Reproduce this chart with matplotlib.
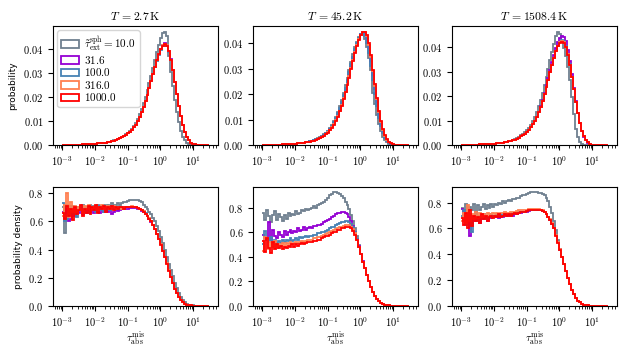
import numpy as np
import matplotlib
matplotlib.use("Agg")
import matplotlib.pyplot as plt
from matplotlib.patches import Patch
from matplotlib.ticker import FuncFormatter, LogLocator, MultipleLocator, NullFormatter

plt.rcParams['mathtext.fontset'] = 'cm'

# ---------------- data ----------------
temperatures = ['2.7', '45.2', '1508.4']
tau_ext_labels = ['10.0', '31.6', '100.0', '316.0', '1000.0']
log_edge_min, log_edge_max, n_bins = -3.0, 1.5, 75

# ---- top row: probability per bin ----
# T = 2.7 K
prob_T1_left = [0.0, 0.00003, 0.00005, 0.00007, 0.00008, 0.0001, 0.00012, 0.00014,
                0.00016, 0.00019, 0.00022, 0.00026, 0.0003, 0.00035, 0.0004, 0.00045,
                0.0005, 0.00056, 0.00063, 0.0007, 0.00079, 0.00089, 0.001, 0.0012]
prob_T1_tau10 = prob_T1_left + [
    0.0014, 0.0016, 0.0019, 0.0022, 0.0025, 0.0029, 0.0034, 0.0039,
    0.0045, 0.0051, 0.0059, 0.0068, 0.0079, 0.0092, 0.0108, 0.0127,
    0.0149, 0.0173, 0.0199, 0.0227, 0.0257, 0.0289, 0.0322, 0.0355,
    0.0388, 0.0418, 0.0445, 0.0466, 0.0470, 0.0455, 0.0372, 0.0305,
    0.0245, 0.0188, 0.0137, 0.0094, 0.0060, 0.0035, 0.0019, 0.0009,
    0.0004, 0.0002, 0.0001, 0.0, 0.0, 0.0, 0.0, 0.0, 0.0, 0.0, 0.0]
prob_T1_tau31 = prob_T1_left + [
    0.0014, 0.0016, 0.0018, 0.0021, 0.0024, 0.0028, 0.0032, 0.0037,
    0.0042, 0.0048, 0.0055, 0.0063, 0.0073, 0.0085, 0.0100, 0.0118,
    0.0138, 0.0160, 0.0184, 0.0210, 0.0238, 0.0267, 0.0296, 0.0325,
    0.0353, 0.0379, 0.0400, 0.0416, 0.0424, 0.0416, 0.0393, 0.0357,
    0.0310, 0.0262, 0.0212, 0.0164, 0.0120, 0.0083, 0.0054, 0.0033,
    0.0019, 0.0010, 0.0005, 0.00025, 0.00012, 0.00006, 0.00003, 0.0, 0.0, 0.0, 0.0]
prob_T1_tau100 = prob_T1_left + [
    0.0014, 0.0016, 0.0018, 0.0021, 0.0024, 0.0028, 0.0032, 0.0037,
    0.0042, 0.0048, 0.0055, 0.0063, 0.0073, 0.0085, 0.0100, 0.0118,
    0.0138, 0.0160, 0.0184, 0.0210, 0.0238, 0.0267, 0.0296, 0.0325,
    0.0351, 0.0376, 0.0397, 0.0411, 0.0418, 0.0410, 0.0388, 0.0354,
    0.0310, 0.0262, 0.0212, 0.0164, 0.0120, 0.0083, 0.0054, 0.0033,
    0.0019, 0.0010, 0.0005, 0.00025, 0.00012, 0.00006, 0.00003, 0.0, 0.0, 0.0, 0.0]
prob_T1_tau316 = prob_T1_left + [
    0.0014, 0.0016, 0.0018, 0.0021, 0.0024, 0.0028, 0.0032, 0.0037,
    0.0042, 0.0048, 0.0055, 0.0063, 0.0073, 0.0085, 0.0100, 0.0118,
    0.0138, 0.0160, 0.0184, 0.0210, 0.0238, 0.0267, 0.0296, 0.0325,
    0.0352, 0.0377, 0.0399, 0.0414, 0.0421, 0.0414, 0.0391, 0.0355,
    0.0310, 0.0262, 0.0212, 0.0164, 0.0120, 0.0083, 0.0054, 0.0033,
    0.0019, 0.0010, 0.0005, 0.00025, 0.00012, 0.00006, 0.00003, 0.0, 0.0, 0.0, 0.0]
prob_T1_tau1000 = prob_T1_left + [
    0.0014, 0.0016, 0.0018, 0.0021, 0.0024, 0.0028, 0.0032, 0.0037,
    0.0042, 0.0048, 0.0055, 0.0063, 0.0073, 0.0085, 0.0100, 0.0118,
    0.0138, 0.0160, 0.0184, 0.0210, 0.0238, 0.0267, 0.0296, 0.0325,
    0.0352, 0.0377, 0.0398, 0.0413, 0.0420, 0.0412, 0.0390, 0.0355,
    0.0310, 0.0262, 0.0212, 0.0164, 0.0120, 0.0083, 0.0054, 0.0033,
    0.0019, 0.0010, 0.0005, 0.00025, 0.00012, 0.00006, 0.00003, 0.0, 0.0, 0.0, 0.0]

# T = 45.2 K
prob_T2_left = [0.0, 0.00003, 0.00005, 0.00007, 0.00009, 0.0001, 0.00012, 0.00014,
                0.00016, 0.00019, 0.00022, 0.00026, 0.0003, 0.00034, 0.00039, 0.00044,
                0.0005, 0.00056, 0.00063, 0.0007, 0.00078, 0.00088, 0.001, 0.0011]
prob_T2_tau10 = prob_T2_left + [
    0.0015, 0.0017, 0.0020, 0.0023, 0.0027, 0.0031, 0.0036, 0.0042,
    0.0049, 0.0057, 0.0067, 0.0079, 0.0093, 0.0110, 0.0130, 0.0153,
    0.0178, 0.0205, 0.0234, 0.0265, 0.0296, 0.0327, 0.0357, 0.0384,
    0.0407, 0.0424, 0.0434, 0.0435, 0.0418, 0.0385, 0.0342, 0.0296,
    0.0205, 0.0160, 0.0118, 0.0082, 0.0054, 0.0033, 0.0019, 0.0010,
    0.0005, 0.0002, 0.0001, 0.00004, 0.0, 0.0, 0.0, 0.0, 0.0, 0.0, 0.0]
prob_T2_tau31 = prob_T2_left + [
    0.0014, 0.0016, 0.0018, 0.0021, 0.0024, 0.0028, 0.0032, 0.0038,
    0.0044, 0.0052, 0.0061, 0.0072, 0.0085, 0.0100, 0.0118, 0.0139,
    0.0163, 0.0189, 0.0216, 0.0245, 0.0276, 0.0307, 0.0338, 0.0368,
    0.0395, 0.0418, 0.0435, 0.0443, 0.0440, 0.0418, 0.0380, 0.0330,
    0.0275, 0.0220, 0.0168, 0.0122, 0.0084, 0.0054, 0.0033, 0.0019,
    0.0010, 0.0005, 0.00025, 0.0001, 0.00005, 0.00002, 0.0, 0.0, 0.0, 0.0, 0.0]
prob_T2_tau100 = prob_T2_left + [
    0.0014, 0.0016, 0.0019, 0.0022, 0.0025, 0.0029, 0.0034, 0.0040,
    0.0046, 0.0054, 0.0064, 0.0075, 0.0089, 0.0105, 0.0124, 0.0146,
    0.0170, 0.0197, 0.0225, 0.0255, 0.0286, 0.0317, 0.0348, 0.0377,
    0.0402, 0.0422, 0.0435, 0.0440, 0.0430, 0.0402, 0.0362, 0.0312,
    0.0256, 0.0202, 0.0152, 0.0108, 0.0073, 0.0046, 0.0028, 0.0016,
    0.0008, 0.0004, 0.0002, 0.00008, 0.00003, 0.0, 0.0, 0.0, 0.0, 0.0, 0.0]
prob_T2_tau316 = prob_T2_left + [
    0.0013, 0.0015, 0.0017, 0.0020, 0.0023, 0.0026, 0.0031, 0.0036,
    0.0043, 0.0050, 0.0059, 0.0069, 0.0082, 0.0097, 0.0114, 0.0135,
    0.0158, 0.0183, 0.0210, 0.0239, 0.0270, 0.0301, 0.0333, 0.0364,
    0.0392, 0.0415, 0.0433, 0.0443, 0.0444, 0.0428, 0.0394, 0.0346,
    0.0290, 0.0233, 0.0179, 0.0131, 0.0091, 0.0060, 0.0037, 0.0021,
    0.0011, 0.0006, 0.0003, 0.00014, 0.00006, 0.00003, 0.0, 0.0, 0.0, 0.0, 0.0]
prob_T2_tau1000 = prob_T2_left + [
    0.0013, 0.0015, 0.0017, 0.0019, 0.0022, 0.0026, 0.0030, 0.0036,
    0.0042, 0.0049, 0.0058, 0.0068, 0.0080, 0.0095, 0.0112, 0.0132,
    0.0155, 0.0180, 0.0207, 0.0235, 0.0265, 0.0297, 0.0329, 0.0360,
    0.0389, 0.0413, 0.0432, 0.0443, 0.0446, 0.0432, 0.0400, 0.0352,
    0.0296, 0.0238, 0.0183, 0.0134, 0.0093, 0.0061, 0.0038, 0.0022,
    0.0012, 0.0006, 0.0003, 0.00015, 0.00007, 0.00003, 0.0, 0.0, 0.0, 0.0, 0.0]

# T = 1508.4 K
prob_T3_left = [0.0, 0.00003, 0.00005, 0.00007, 0.00009, 0.00011, 0.00013, 0.00015,
                0.00018, 0.00021, 0.00024, 0.00028, 0.00032, 0.00037, 0.00042, 0.00048,
                0.00054, 0.0006, 0.00068, 0.00077, 0.00087, 0.001, 0.0011, 0.0013]
prob_T3_tau10 = prob_T3_left + [
    0.0016, 0.0018, 0.0021, 0.0024, 0.0028, 0.0033, 0.0039, 0.0045,
    0.0052, 0.0061, 0.0071, 0.0083, 0.0098, 0.0115, 0.0135, 0.0158,
    0.0184, 0.0213, 0.0244, 0.0277, 0.0311, 0.0346, 0.0380, 0.0415,
    0.0445, 0.0463, 0.0455, 0.0425, 0.0398, 0.0365, 0.0320, 0.0268,
    0.0195, 0.0125, 0.0065, 0.0032, 0.0013, 0.0005, 0.0002, 0.0001,
    0.0, 0.0, 0.0, 0.0, 0.0, 0.0, 0.0, 0.0, 0.0, 0.0, 0.0]
prob_T3_tau31 = prob_T3_left + [
    0.0015, 0.0017, 0.0019, 0.0022, 0.0026, 0.0030, 0.0035, 0.0041,
    0.0047, 0.0054, 0.0062, 0.0073, 0.0085, 0.0099, 0.0116, 0.0137,
    0.0160, 0.0186, 0.0214, 0.0244, 0.0275, 0.0307, 0.0338, 0.0369,
    0.0397, 0.0421, 0.0438, 0.0446, 0.0443, 0.0425, 0.0390, 0.0343,
    0.0290, 0.0234, 0.0180, 0.0131, 0.0090, 0.0057, 0.0034, 0.0019,
    0.0010, 0.0005, 0.0002, 0.0001, 0.00004, 0.0, 0.0, 0.0, 0.0, 0.0, 0.0]
prob_T3_tau100 = prob_T3_left + [
    0.0015, 0.0017, 0.0019, 0.0022, 0.0026, 0.0030, 0.0035, 0.0041,
    0.0047, 0.0054, 0.0062, 0.0072, 0.0084, 0.0098, 0.0115, 0.0135,
    0.0157, 0.0182, 0.0209, 0.0238, 0.0268, 0.0298, 0.0328, 0.0357,
    0.0385, 0.0407, 0.0422, 0.0428, 0.0424, 0.0405, 0.0373, 0.0330,
    0.0280, 0.0228, 0.0177, 0.0130, 0.0090, 0.0058, 0.0035, 0.0020,
    0.0011, 0.0005, 0.0002, 0.0001, 0.00004, 0.0, 0.0, 0.0, 0.0, 0.0, 0.0]
prob_T3_tau316 = prob_T3_left + [
    0.0015, 0.0017, 0.0019, 0.0022, 0.0026, 0.0030, 0.0035, 0.0041,
    0.0047, 0.0054, 0.0062, 0.0072, 0.0084, 0.0098, 0.0115, 0.0135,
    0.0157, 0.0182, 0.0209, 0.0238, 0.0268, 0.0298, 0.0328, 0.0357,
    0.0384, 0.0406, 0.0420, 0.0426, 0.0421, 0.0402, 0.0371, 0.0329,
    0.0280, 0.0228, 0.0177, 0.0130, 0.0090, 0.0058, 0.0035, 0.0020,
    0.0011, 0.0005, 0.0002, 0.0001, 0.00004, 0.0, 0.0, 0.0, 0.0, 0.0, 0.0]
prob_T3_tau1000 = prob_T3_left + [
    0.0015, 0.0017, 0.0019, 0.0022, 0.0026, 0.0030, 0.0035, 0.0041,
    0.0047, 0.0054, 0.0062, 0.0072, 0.0084, 0.0098, 0.0115, 0.0135,
    0.0157, 0.0182, 0.0209, 0.0238, 0.0268, 0.0298, 0.0328, 0.0357,
    0.0383, 0.0404, 0.0418, 0.0423, 0.0418, 0.0400, 0.0370, 0.0328,
    0.0280, 0.0228, 0.0177, 0.0130, 0.0090, 0.0058, 0.0035, 0.0020,
    0.0011, 0.0005, 0.0002, 0.0001, 0.00004, 0.0, 0.0, 0.0, 0.0, 0.0, 0.0]

# ---- bottom row: probability density ----
# T = 2.7 K
dens_T1_right = [0.16, 0.12, 0.087, 0.06, 0.039, 0.024, 0.014, 0.0075,
                 0.004, 0.002, 0.001, 0.0005, 0.0002, 0.0001, 0.0, 0.0, 0.0, 0.0, 0.0]
dens_T1_tau10 = [0.70, 0.52, 0.72, 0.66, 0.69, 0.71, 0.65, 0.70,
                 0.68, 0.70, 0.72, 0.67, 0.70, 0.69, 0.72, 0.70,
                 0.71, 0.69, 0.72, 0.70, 0.71, 0.72, 0.70, 0.72,
                 0.71, 0.73, 0.72, 0.72, 0.73, 0.72, 0.73, 0.74,
                 0.735, 0.745, 0.75, 0.755, 0.755, 0.755, 0.75, 0.745,
                 0.735, 0.72, 0.705, 0.69, 0.67, 0.65, 0.625, 0.60,
                 0.565, 0.53, 0.49, 0.445, 0.40, 0.35, 0.30, 0.255,
                 0.21, 0.165, 0.125, 0.09, 0.061, 0.039, 0.024, 0.014,
                 0.0075, 0.004, 0.002, 0.001, 0.0004, 0.0002, 0.0001, 0.0, 0.0, 0.0, 0.0]
dens_T1_tau31 = [0.67, 0.66, 0.69, 0.60, 0.62, 0.66, 0.64, 0.67,
                 0.66, 0.68, 0.65, 0.69, 0.66, 0.68, 0.67, 0.69,
                 0.66, 0.68, 0.67, 0.66, 0.68, 0.67, 0.69, 0.67,
                 0.68, 0.655, 0.67, 0.68, 0.675, 0.68, 0.685, 0.685,
                 0.69, 0.69, 0.695, 0.695, 0.695, 0.695, 0.69, 0.685,
                 0.675, 0.665, 0.65, 0.635, 0.617, 0.597, 0.573, 0.544,
                 0.51, 0.476, 0.436, 0.391, 0.346, 0.301, 0.251, 0.206] + dens_T1_right
dens_T1_tau100 = [0.73, 0.60, 0.62, 0.66, 0.71, 0.65, 0.68, 0.63,
                  0.69, 0.71, 0.66, 0.70, 0.67, 0.66, 0.70, 0.68,
                  0.70, 0.67, 0.69, 0.71, 0.68, 0.67, 0.70, 0.69,
                  0.68, 0.70, 0.69, 0.685, 0.70, 0.69, 0.70, 0.695,
                  0.70, 0.705, 0.705, 0.705, 0.70, 0.70, 0.695, 0.69,
                  0.68, 0.672, 0.657, 0.642, 0.622, 0.602, 0.577, 0.547,
                  0.512, 0.477, 0.437, 0.392, 0.347, 0.302, 0.252, 0.207] + dens_T1_right
dens_T1_tau316 = [0.64, 0.72, 0.80, 0.63, 0.74, 0.67, 0.71, 0.66,
                  0.70, 0.68, 0.66, 0.71, 0.69, 0.72, 0.68, 0.70,
                  0.69, 0.71, 0.68, 0.70, 0.72, 0.69, 0.70, 0.71,
                  0.69, 0.70, 0.71, 0.69, 0.70, 0.70, 0.69, 0.70,
                  0.70, 0.705, 0.705, 0.71, 0.705, 0.70, 0.695, 0.69,
                  0.68, 0.671, 0.656, 0.641, 0.621, 0.601, 0.576, 0.546,
                  0.511, 0.476, 0.436, 0.391, 0.346, 0.301, 0.251, 0.206] + dens_T1_right
dens_T1_tau1000 = [0.66, 0.62, 0.71, 0.64, 0.69, 0.61, 0.70, 0.65,
                   0.68, 0.72, 0.64, 0.69, 0.66, 0.71, 0.65, 0.70,
                   0.68, 0.72, 0.66, 0.70, 0.69, 0.71, 0.67, 0.70,
                   0.69, 0.71, 0.68, 0.70, 0.69, 0.70, 0.70, 0.69,
                   0.70, 0.70, 0.705, 0.705, 0.70, 0.70, 0.695, 0.69,
                   0.68, 0.67, 0.655, 0.64, 0.62, 0.60, 0.575, 0.545,
                   0.51, 0.475, 0.435, 0.39, 0.345, 0.30, 0.25, 0.205] + dens_T1_right

# T = 45.2 K
dens_T2_right = [0.113, 0.082, 0.057, 0.038, 0.025, 0.015, 0.009, 0.005,
                 0.0027, 0.0014, 0.0007, 0.0003, 0.0001, 0.0, 0.0, 0.0, 0.0, 0.0, 0.0]
dens_T2_tau10 = [0.76, 0.70, 0.78, 0.73, 0.68, 0.74, 0.77, 0.70,
                 0.75, 0.72, 0.69, 0.74, 0.71, 0.76, 0.73, 0.75,
                 0.74, 0.77, 0.75, 0.76, 0.78, 0.77, 0.79, 0.78,
                 0.79, 0.80, 0.81, 0.80, 0.82, 0.83, 0.84, 0.85,
                 0.86, 0.88, 0.90, 0.915, 0.925, 0.925, 0.92, 0.91,
                 0.895, 0.875, 0.85, 0.82, 0.785, 0.74, 0.69, 0.63,
                 0.565, 0.495, 0.425, 0.36, 0.305, 0.25, 0.20, 0.152] + dens_T2_right
dens_T2_tau31 = [0.58, 0.55, 0.54, 0.68, 0.53, 0.62, 0.57, 0.55,
                 0.60, 0.58, 0.56, 0.61, 0.58, 0.60, 0.62, 0.59,
                 0.61, 0.60, 0.63, 0.61, 0.62, 0.64, 0.62, 0.63,
                 0.64, 0.63, 0.65, 0.65, 0.66, 0.66, 0.67, 0.68,
                 0.69, 0.70, 0.71, 0.72, 0.735, 0.745, 0.755, 0.76,
                 0.765, 0.765, 0.76, 0.745, 0.72, 0.69, 0.65, 0.60,
                 0.545, 0.485, 0.425, 0.362, 0.306, 0.251, 0.201, 0.153] + dens_T2_right
dens_T2_tau100 = [0.50, 0.61, 0.55, 0.52, 0.56, 0.50, 0.54, 0.51,
                  0.53, 0.51, 0.54, 0.52, 0.54, 0.53, 0.55, 0.53,
                  0.54, 0.55, 0.54, 0.56, 0.55, 0.56, 0.57, 0.56,
                  0.57, 0.57, 0.58, 0.58, 0.59, 0.59, 0.60, 0.605,
                  0.61, 0.62, 0.63, 0.64, 0.645, 0.655, 0.665, 0.675,
                  0.68, 0.685, 0.69, 0.688, 0.68, 0.665, 0.64, 0.60,
                  0.545, 0.48, 0.42, 0.36, 0.305, 0.25, 0.20, 0.152] + dens_T2_right
dens_T2_tau316 = [0.45, 0.56, 0.55, 0.46, 0.52, 0.48, 0.53, 0.47,
                  0.50, 0.49, 0.51, 0.48, 0.51, 0.50, 0.52, 0.50,
                  0.51, 0.52, 0.51, 0.52, 0.53, 0.52, 0.53, 0.54,
                  0.54, 0.54, 0.55, 0.55, 0.56, 0.56, 0.57, 0.58,
                  0.585, 0.59, 0.60, 0.61, 0.615, 0.625, 0.63, 0.64,
                  0.645, 0.652, 0.657, 0.66, 0.657, 0.645, 0.625, 0.59,
                  0.54, 0.48, 0.42, 0.36, 0.305, 0.25, 0.20, 0.152] + dens_T2_right
dens_T2_tau1000 = [0.53, 0.44, 0.55, 0.47, 0.43, 0.52, 0.46, 0.50,
                   0.47, 0.49, 0.46, 0.48, 0.47, 0.49, 0.48, 0.50,
                   0.48, 0.50, 0.49, 0.50, 0.51, 0.50, 0.51, 0.52,
                   0.52, 0.52, 0.53, 0.53, 0.54, 0.54, 0.55, 0.56,
                   0.565, 0.57, 0.58, 0.59, 0.60, 0.605, 0.615, 0.62,
                   0.63, 0.635, 0.64, 0.643, 0.64, 0.63, 0.61, 0.58,
                   0.535, 0.478, 0.418, 0.358, 0.304, 0.25, 0.20, 0.152] + dens_T2_right

# T = 1508.4 K
dens_T3_right = [0.122, 0.087, 0.059, 0.039, 0.025, 0.015, 0.0085, 0.0045,
                 0.0023, 0.0011, 0.0005, 0.0002, 0.0001, 0.0, 0.0, 0.0, 0.0, 0.0, 0.0]
dens_T3_tau10 = [0.76, 0.72, 0.79, 0.70, 0.77, 0.74, 0.79, 0.72,
                 0.78, 0.74, 0.77, 0.79, 0.75, 0.78, 0.76, 0.79,
                 0.77, 0.79, 0.78, 0.80, 0.79, 0.81, 0.80, 0.81,
                 0.82, 0.81, 0.83, 0.83, 0.84, 0.84, 0.85, 0.86,
                 0.86, 0.87, 0.875, 0.88, 0.88, 0.88, 0.88, 0.878,
                 0.875, 0.87, 0.86, 0.84, 0.81, 0.77, 0.72, 0.66,
                 0.59, 0.51, 0.44, 0.378, 0.326, 0.27, 0.215, 0.165] + dens_T3_right
dens_T3_tau31 = [0.75, 0.70, 0.69, 0.66, 0.54, 0.64, 0.70, 0.66,
                 0.68, 0.64, 0.69, 0.67, 0.70, 0.66, 0.69, 0.68,
                 0.70, 0.69, 0.70, 0.68, 0.70, 0.69, 0.71, 0.70,
                 0.70, 0.71, 0.70, 0.715, 0.71, 0.72, 0.72, 0.725,
                 0.73, 0.73, 0.735, 0.74, 0.74, 0.745, 0.745, 0.745,
                 0.74, 0.735, 0.725, 0.71, 0.687, 0.667, 0.637, 0.602,
                 0.547, 0.492, 0.437, 0.377, 0.326, 0.271, 0.216, 0.166] + dens_T3_right
dens_T3_tau100 = [0.70, 0.74, 0.63, 0.71, 0.66, 0.57, 0.68, 0.72,
                  0.66, 0.70, 0.68, 0.71, 0.67, 0.70, 0.69, 0.71,
                  0.69, 0.70, 0.71, 0.70, 0.71, 0.70, 0.71, 0.71,
                  0.71, 0.72, 0.71, 0.72, 0.72, 0.725, 0.73, 0.73,
                  0.73, 0.735, 0.74, 0.74, 0.745, 0.745, 0.745, 0.745,
                  0.74, 0.735, 0.725, 0.71, 0.686, 0.666, 0.636, 0.601,
                  0.546, 0.491, 0.436, 0.376, 0.325, 0.27, 0.215, 0.165] + dens_T3_right
dens_T3_tau316 = [0.66, 0.72, 0.64, 0.78, 0.66, 0.71, 0.67, 0.73,
                  0.68, 0.72, 0.69, 0.71, 0.70, 0.72, 0.70, 0.71,
                  0.72, 0.71, 0.72, 0.71, 0.72, 0.72, 0.73, 0.72,
                  0.72, 0.73, 0.73, 0.73, 0.735, 0.74, 0.74, 0.74,
                  0.74, 0.745, 0.75, 0.75, 0.75, 0.75, 0.75, 0.75,
                  0.745, 0.74, 0.73, 0.715, 0.69, 0.67, 0.64, 0.605,
                  0.55, 0.495, 0.44, 0.378, 0.327, 0.272, 0.216, 0.166] + dens_T3_right
dens_T3_tau1000 = [0.68, 0.63, 0.72, 0.60, 0.74, 0.62, 0.70, 0.66,
                   0.69, 0.64, 0.71, 0.67, 0.70, 0.66, 0.69, 0.70,
                   0.68, 0.70, 0.69, 0.71, 0.69, 0.70, 0.71, 0.70,
                   0.71, 0.70, 0.71, 0.72, 0.715, 0.72, 0.725, 0.73,
                   0.73, 0.735, 0.74, 0.74, 0.745, 0.745, 0.745, 0.745,
                   0.74, 0.735, 0.725, 0.71, 0.685, 0.665, 0.635, 0.60,
                   0.545, 0.49, 0.435, 0.375, 0.325, 0.27, 0.215, 0.165] + dens_T3_right

top_series = [
    [prob_T1_tau10, prob_T1_tau31, prob_T1_tau100, prob_T1_tau316, prob_T1_tau1000],
    [prob_T2_tau10, prob_T2_tau31, prob_T2_tau100, prob_T2_tau316, prob_T2_tau1000],
    [prob_T3_tau10, prob_T3_tau31, prob_T3_tau100, prob_T3_tau316, prob_T3_tau1000],
]
bottom_series = [
    [dens_T1_tau10, dens_T1_tau31, dens_T1_tau100, dens_T1_tau316, dens_T1_tau1000],
    [dens_T2_tau10, dens_T2_tau31, dens_T2_tau100, dens_T2_tau316, dens_T2_tau1000],
    [dens_T3_tau10, dens_T3_tau31, dens_T3_tau100, dens_T3_tau316, dens_T3_tau1000],
]
for r, row in enumerate(top_series + bottom_series):
    for k, s in enumerate(row):
        if len(s) != n_bins:
            raise ValueError('row %d series %d has %d values' % (r, k, len(s)))

# ---------------- style ----------------
colors = ['slategray', 'darkviolet', 'steelblue', 'coral', 'red']
lw = 1.3
top_ylims = [0.0495, 0.0468, 0.0487]
bottom_ylims = [0.847, 0.971, 0.924]

edges = np.logspace(log_edge_min, log_edge_max, n_bins + 1)

fig = plt.figure(figsize=(6.32, 3.52), dpi=100)
lefts = [53 / 632, 253 / 632, 452 / 632]
width = 165 / 632
height = 119 / 352
top_bottom = 1 - 145 / 352
bot_bottom = 1 - 305.7 / 352


def style_axis(ax):
    ax.set_xscale('log')
    ax.set_xlim(10 ** -3.275, 10 ** 1.763)
    ax.xaxis.set_major_locator(LogLocator(base=10, numticks=12))
    ax.xaxis.set_minor_locator(LogLocator(base=10, subs=np.arange(2, 10), numticks=100))
    ax.xaxis.set_minor_formatter(NullFormatter())
    ax.xaxis.set_major_formatter(FuncFormatter(lambda v, p: r'$10^{%d}$' % int(round(np.log10(v)))))
    ax.tick_params(axis='both', which='major', labelsize=7.5, length=3.5, width=0.8)
    ax.tick_params(axis='both', which='minor', length=2, width=0.6)


for j in range(3):
    ax = fig.add_axes([lefts[j], top_bottom, width, height])
    for vals, c in zip(top_series[j], colors):
        ax.stairs(vals, edges, baseline=None, color=c, lw=lw)
    style_axis(ax)
    ax.set_ylim(0, top_ylims[j])
    ax.yaxis.set_major_locator(MultipleLocator(0.01))
    ax.yaxis.set_major_formatter(FuncFormatter(lambda v, p: r'$%.2f$' % v))
    ax.set_title(r'$T\;{=}' + temperatures[j] + r'\,\mathrm{K}$', fontsize=8.5, pad=4)
    if j == 0:
        ax.set_ylabel('probability', fontsize=6.5)
        handles = [Patch(facecolor='none', edgecolor=c, linewidth=lw) for c in colors]
        labels = [r'$\tilde{\tau}^{\rm sph}_{\rm ext}{=}' + tau_ext_labels[0] + r'$'] + \
                 [r'$' + t + r'$' for t in tau_ext_labels[1:]]
        ax.legend(handles, labels, loc='upper left', fontsize=8, handlelength=1.6,
                  handletextpad=0.45, labelspacing=0.05, borderpad=0.35,
                  borderaxespad=0.4)

    axb = fig.add_axes([lefts[j], bot_bottom, width, height])
    for vals, c in zip(bottom_series[j], colors):
        axb.stairs(vals, edges, baseline=None, color=c, lw=lw)
    style_axis(axb)
    axb.set_ylim(0, bottom_ylims[j])
    axb.yaxis.set_major_locator(MultipleLocator(0.2))
    axb.yaxis.set_major_formatter(FuncFormatter(lambda v, p: r'$%.1f$' % v))
    axb.set_xlabel(r'$\tau^{\rm mis}_{\rm abs}$', fontsize=8, labelpad=1)
    if j == 0:
        axb.set_ylabel('probability density', fontsize=6.5)

fig.savefig('out.png', dpi=100)
